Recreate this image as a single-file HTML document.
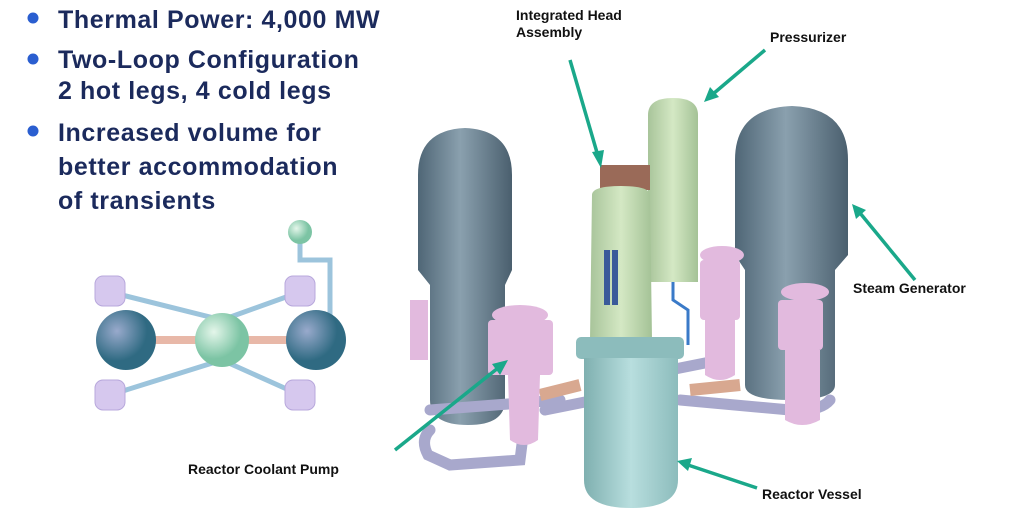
<!DOCTYPE html>
<html><head><style>
body{margin:0;background:#fff;width:1024px;height:531px;overflow:hidden;font-family:"Liberation Sans",sans-serif}
svg{position:absolute;left:0;top:0}
</style></head><body>
<svg width="1024" height="531" viewBox="0 0 1024 531">
<defs>
<linearGradient id="sg" x1="0" x2="1"><stop offset="0" stop-color="#4f6676"/><stop offset=".45" stop-color="#8aa0ae"/><stop offset="1" stop-color="#4a5f6e"/></linearGradient>
<linearGradient id="rv" x1="0" x2="1"><stop offset="0" stop-color="#7fb0b0"/><stop offset=".5" stop-color="#b8dede"/><stop offset="1" stop-color="#8cbcbc"/></linearGradient>
<linearGradient id="gr" x1="0" x2="1"><stop offset="0" stop-color="#a8c49a"/><stop offset=".5" stop-color="#d4e8c4"/><stop offset="1" stop-color="#a4c296"/></linearGradient>
<radialGradient id="bs" cx=".35" cy=".35"><stop offset="0" stop-color="#9ac"/><stop offset="1" stop-color="#2f6a82"/></radialGradient>
<radialGradient id="gs" cx=".35" cy=".35"><stop offset="0" stop-color="#e4f6ea"/><stop offset="1" stop-color="#7cc4a4"/></radialGradient>
</defs>
<g font-weight="bold" font-size="25" fill="#1b2a5c" letter-spacing="0.6">
<circle cx="33" cy="18" r="5.5" fill="#2a5ed0"/><circle cx="33" cy="59" r="5.5" fill="#2a5ed0"/><circle cx="33" cy="131" r="5.5" fill="#2a5ed0"/>
<text x="58" y="28">Thermal Power: 4,000 MW</text>
<text x="58" y="68">Two-Loop Configuration</text>
<text x="58" y="99">2 hot legs, 4 cold legs</text>
<text x="58" y="141">Increased volume for</text>
<text x="58" y="175">better accommodation</text>
<text x="58" y="209">of transients</text>
</g>
<!-- schematic -->
<g fill="none" stroke="#9cc4dc" stroke-width="5">
<path d="M110 292 L222 320 L300 292"/><path d="M110 395 L222 360 L300 395"/>
<path d="M300 236 L300 260 L330 260 L330 320"/>
</g>
<path d="M126 340 L316 340" stroke="#e8b8a8" stroke-width="8"/>
<g fill="#d6c8ee" stroke="#b8a8dc"><rect x="95" y="276" width="30" height="30" rx="8"/><rect x="95" y="380" width="30" height="30" rx="8"/><rect x="285" y="276" width="30" height="30" rx="8"/><rect x="285" y="380" width="30" height="30" rx="8"/></g>
<circle cx="126" cy="340" r="30" fill="url(#bs)"/><circle cx="316" cy="340" r="30" fill="url(#bs)"/>
<circle cx="222" cy="340" r="27" fill="url(#gs)"/><circle cx="300" cy="232" r="12" fill="url(#gs)"/>
<!-- left SG -->
<path d="M418 175 Q418 130 465 128 Q512 130 512 175 L512 270 L505 285 L505 400 Q505 425 468 425 Q430 425 430 400 L430 285 L418 270Z" fill="url(#sg)"/>
<!-- right SG -->
<path d="M735 160 Q735 108 792 106 Q848 108 848 160 L848 255 L835 270 L835 385 Q835 400 790 400 Q745 400 745 385 L745 270 L735 255Z" fill="url(#sg)"/>
<!-- pipes -->
<g fill="none" stroke="#a8a8cc" stroke-width="11" stroke-linecap="round">
<path d="M430 430 Q420 440 428 455 L450 465 L520 460 L525 420"/>
<path d="M545 410 L620 395"/><path d="M680 400 L790 410 Q820 412 830 400"/>
<path d="M430 410 L560 400"/><path d="M670 370 L720 360"/>
</g>
<path d="M540 395 L580 385" stroke="#d8a890" stroke-width="12"/><path d="M690 390 L740 385" stroke="#d8a890" stroke-width="12"/>
<!-- pumps -->
<g fill="#e2bade">
<rect x="488" y="320" width="65" height="55" rx="4"/><path d="M508 375 L540 375 L538 440 Q524 450 510 440Z"/><ellipse cx="520" cy="315" rx="28" ry="10"/>
<rect x="700" y="260" width="40" height="60" rx="4"/><path d="M705 320 L735 320 L735 375 Q720 385 705 375Z"/><ellipse cx="722" cy="255" rx="22" ry="9"/>
<rect x="778" y="300" width="45" height="50" rx="4"/><path d="M785 350 L820 350 L820 420 Q802 430 785 420Z"/><ellipse cx="805" cy="292" rx="24" ry="9"/>
<rect x="410" y="300" width="18" height="60"/>
</g>
<!-- pressurizer -->
<path d="M648 115 Q648 98 673 98 Q698 98 698 115 L698 282 L648 282Z" fill="url(#gr)"/>
<path d="M673 282 L673 300 L688 310 L688 345" stroke="#3a7ac8" stroke-width="3" fill="none"/>
<!-- head assembly -->
<path d="M600 165 L650 165 L650 190 L600 190Z" fill="#9a6a58"/>
<path d="M592 195 Q592 186 621 186 Q650 186 650 195 L652 340 L590 340Z" fill="url(#gr)"/>
<rect x="604" y="250" width="6" height="55" fill="#3a5a9a"/><rect x="612" y="250" width="6" height="55" fill="#3a5a9a"/>
<!-- reactor vessel -->
<rect x="576" y="337" width="108" height="22" rx="5" fill="#8cbcbc"/>
<path d="M584 358 L678 358 L678 480 Q678 508 631 508 Q584 508 584 480Z" fill="url(#rv)"/>
<!-- arrows -->
<g stroke="#1aa88a" stroke-width="3.5" fill="#1aa88a">
<line x1="570" y1="60" x2="598" y2="156"/><polygon points="601,168 592,152 604,150" stroke="none"/>
<line x1="765" y1="50" x2="713" y2="94"/><polygon points="704,102 710,87 719,97" stroke="none"/>
<line x1="915" y1="280" x2="860" y2="213"/><polygon points="852,204 866,210 856,219" stroke="none"/>
<line x1="395" y1="450" x2="498" y2="368"/><polygon points="508,360 500,375 492,364" stroke="none"/>
<line x1="757" y1="488" x2="688" y2="465"/><polygon points="677,461 692,458 688,471" stroke="none"/>
</g>
<g font-weight="bold" font-size="14" fill="#111">
<text x="516" y="20">Integrated Head</text><text x="516" y="37">Assembly</text>
<text x="770" y="42">Pressurizer</text>
<text x="853" y="293">Steam Generator</text>
<text x="188" y="474">Reactor Coolant Pump</text>
<text x="762" y="499">Reactor Vessel</text>
</g>
</svg>
</body></html>
